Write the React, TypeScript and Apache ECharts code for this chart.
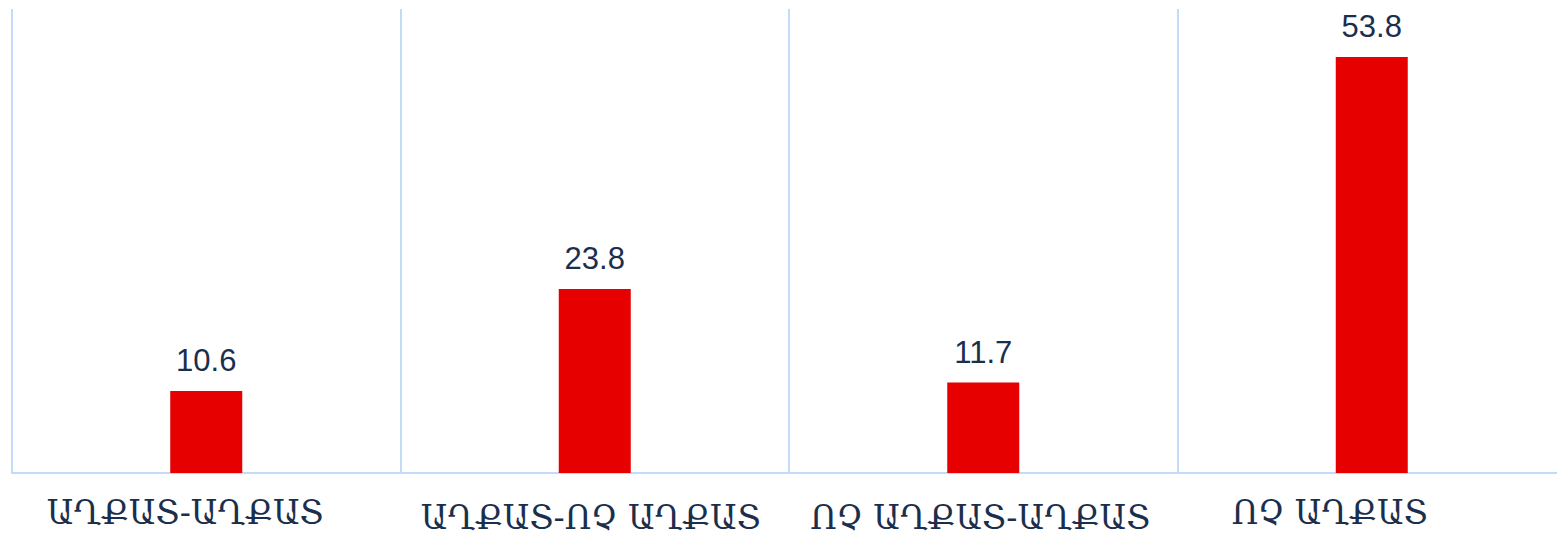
import React, { useEffect, useRef } from "react";
import * as echarts from "echarts";

const categories = ["ԱՂՔԱՏ-ԱՂՔԱՏ", "ԱՂՔԱՏ-ՈՉ ԱՂՔԱՏ", "ՈՉ ԱՂՔԱՏ-ԱՂՔԱՏ", "ՈՉ ԱՂՔԱՏ"];
const values = [10.6, 23.8, 11.7, 53.8];

// per-label padding [top, right, bottom, left] to nudge the category labels as in the reference
const labelPadding = [
  [0, 42, 0, 0],
  [5, 8, 0, 0],
  [5, 6, 0, 0],
  [0, 84, 0, 0],
];

export default function App() {
  const ref = useRef<HTMLDivElement>(null);
  useEffect(() => {
    if (!ref.current) return;
    const chart = echarts.init(ref.current, undefined, { renderer: "svg" });
    chart.setOption({
      animation: false,
      backgroundColor: "#ffffff",
      grid: { left: 12, right: 14, top: 9, bottom: 61, containLabel: false },
      xAxis: {
        type: "category",
        data: categories.map((c, i) => ({
          value: c,
          textStyle: { padding: labelPadding[i] },
        })),
        boundaryGap: true,
        axisLine: { show: true, lineStyle: { color: "#c2dbf7", width: 2 } },
        axisTick: { show: false },
        splitLine: { show: true, lineStyle: { color: "#c2dbf7", width: 2 } },
        axisLabel: {
          interval: 0,
          margin: 23,
          fontFamily: "'DejaVu Serif'",
          fontSize: 33,
          color: "#1b2f4d",
        },
      },
      yAxis: {
        type: "value",
        min: 0,
        max: 60,
        show: false,
        splitLine: { show: false },
      },
      series: [
        {
          type: "bar",
          data: values,
          barWidth: 72,
          itemStyle: { color: "#e60000" },
          label: {
            show: true,
            position: "top",
            distance: 15,
            fontFamily: "'Liberation Sans', Arial, sans-serif",
            fontSize: 31,
            color: "#1b2f4d",
            formatter: (p: any) => p.value.toFixed(1),
          },
        },
      ],
    });
    return () => chart.dispose();
  }, []);
  return (
    <div style={{ position: "fixed", left: 0, top: 0, width: 1557, height: 534, overflow: "hidden" }}>
      <div ref={ref} style={{ width: 1580, height: 534 }} />
    </div>
  );
}
